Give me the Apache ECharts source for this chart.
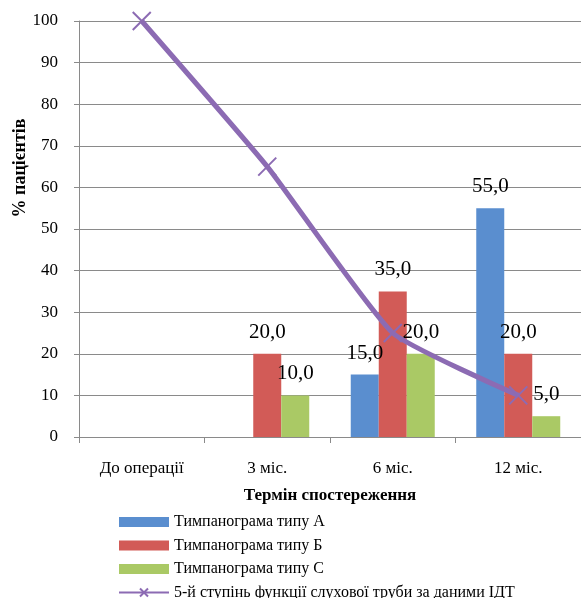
<!DOCTYPE html>
<html>
<head>
<meta charset="utf-8">
<script src="https://cdn.jsdelivr.net/npm/echarts@6/dist/echarts.min.js"></script>
<style>html,body{margin:0;padding:0;background:#fff;}#c{width:581px;height:598px;}</style>
</head>
<body>
<div id="c"></div>
<script>
var categories = ['До операції', '3 міс.', '6 міс.', '12 міс.'];
var typeA = [0, 0, 15, 55];
var typeB = [0, 20, 35, 20];
var typeC = [0, 10, 20, 5];
var grade5 = [100, 65, 25, 10];
var seriesNames = ['Тимпанограма типу А', 'Тимпанограма типу Б', 'Тимпанограма типу С', '5-й ступінь функції слухової труби за даними ІДТ'];
var yTicks = {min: 0, max: 100, interval: 10};

var font = '"Liberation Serif", "Times New Roman", serif';
var gridColor = '#8a8a8a';
var purple = '#8C6BB3';
var labelOpt = {
  show: true, position: 'top', distance: 11,
  fontFamily: font, fontSize: 21, color: '#000',
  formatter: function (p) { return p.value ? p.value.toFixed(1).replace('.', ',') : ''; }
};
function bar(name, data, color) {
  return {
    name: name, type: 'bar', data: data, barWidth: 28, barGap: '0%',
    itemStyle: {color: color}, label: labelOpt, z: 2
  };
}
var xPath = 'path://M0,0L10,10M10,0L0,10';
var chart = echarts.init(document.getElementById('c'), null, {renderer: 'canvas'});
chart.setOption({
  animation: false,
  backgroundColor: '#fff',
  grid: {left: 79, right: -2, top: 21, bottom: 161, containLabel: false},
  xAxis: {
    type: 'category', data: categories, boundaryGap: true,
    axisLine: {lineStyle: {color: gridColor, width: 1}},
    axisTick: {show: true, length: 6, alignWithLabel: false, lineStyle: {color: gridColor}},
    axisLabel: {fontFamily: font, fontSize: 17, color: '#000', margin: 23},
    name: 'Термін спостереження', nameLocation: 'middle', nameGap: 50,
    nameTextStyle: {fontFamily: font, fontSize: 17, fontWeight: 'bold', color: '#000'}
  },
  yAxis: {
    type: 'value', min: yTicks.min, max: yTicks.max, interval: yTicks.interval,
    axisLine: {show: true, lineStyle: {color: gridColor, width: 1}},
    axisTick: {show: true, length: 5, inside: false, lineStyle: {color: gridColor}},
    axisLabel: {fontFamily: font, fontSize: 17, color: '#000', margin: 21},
    splitLine: {show: true, lineStyle: {color: gridColor, width: 1}}
  },
  legend: {
    orient: 'vertical', left: 118, top: 514, padding: 0, height: 100, itemWidth: 50, itemHeight: 10, itemGap: 7.5,
    textStyle: {fontFamily: font, fontSize: 16, color: '#000'},
    data: [
      {name: seriesNames[0], icon: 'rect'},
      {name: seriesNames[1], icon: 'rect'},
      {name: seriesNames[2], icon: 'rect'},
      {name: seriesNames[3]}
    ]
  },
  graphic: [{
    type: 'text', x: 20, y: 168, rotation: Math.PI / 2,
    style: {text: '% пацієнтів', font: 'bold 18px ' + font, fill: '#000', textAlign: 'center', textVerticalAlign: 'middle'}
  }],
  series: [
    bar(seriesNames[0], typeA, '#5A8ECF'),
    bar(seriesNames[1], typeB, '#D25B57'),
    bar(seriesNames[2], typeC, '#AAC965'),
    {
      name: seriesNames[3], type: 'line', data: grade5, smooth: 0.15, z: 5,
      symbol: xPath, symbolSize: 18,
      lineStyle: {color: purple, width: 5},
      itemStyle: {color: 'rgba(0,0,0,0)', borderColor: purple, borderWidth: 2}
    }
  ]
});
</script>
</body>
</html>
